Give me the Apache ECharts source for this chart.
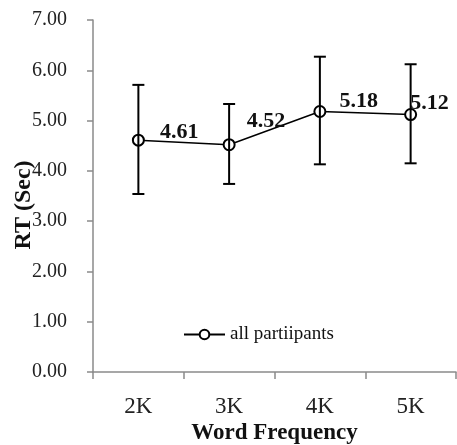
<!DOCTYPE html>
<html>
<head>
<meta charset="utf-8">
<script src="https://cdn.jsdelivr.net/npm/echarts@6/dist/echarts.min.js"></script>
<style>
html,body{margin:0;padding:0;background:#fff;}
#c{width:457px;height:445px;}
</style>
</head>
<body>
<div id="c"></div>
<script>
const categories = ['2K', '3K', '4K', '5K'];
const meanRT = [4.61, 4.52, 5.18, 5.12];
const errUpper = [5.71, 5.33, 6.27, 6.12];
const errLower = [3.54, 3.74, 4.13, 4.15];
const seriesName = 'all partiipants';

const labelOffsets = [[15, -8], [11, -23], [13, -10], [-7, -11]];
const FONT = '"Liberation Serif", "Times New Roman", serif';

const chart = echarts.init(document.getElementById('c'), null, {renderer: 'canvas'});

const lineData = meanRT.map((v, i) => ({
  value: v,
  label: {offset: labelOffsets[i]}
}));

const errData = categories.map((c, i) => [i, errLower[i], errUpper[i]]);

chart.setOption({
  animation: false,
  backgroundColor: '#fff',
  grid: {left: 93, right: 1, top: 20, bottom: 73, containLabel: false, outerBoundsMode: 'none'},
  legend: {
    data: [seriesName],
    left: 178,
    top: 320,
    itemWidth: 41,
    itemHeight: 12,
    itemGap: 2,
    textStyle: {fontFamily: FONT, fontSize: 19, color: '#111'}
  },
  xAxis: {
    type: 'category',
    data: categories,
    boundaryGap: true,
    axisLine: {lineStyle: {color: '#8a8a8a', width: 1.5}},
    axisTick: {show: true, length: 7, lineStyle: {color: '#8a8a8a', width: 1.5}},
    axisLabel: {fontFamily: FONT, fontSize: 23, color: '#222', margin: 23},
    name: 'Word Frequency',
    nameLocation: 'middle',
    nameGap: 50,
    nameMoveOverlap: false,
    nameTextStyle: {fontFamily: FONT, fontSize: 23, fontWeight: 'bold', color: '#111'}
  },
  yAxis: {
    type: 'value',
    min: 0,
    max: 7,
    interval: 1,
    splitLine: {show: false},
    axisLine: {show: true, lineStyle: {color: '#8a8a8a', width: 1.5}},
    axisTick: {show: true, length: 6, lineStyle: {color: '#8a8a8a', width: 1.5}},
    axisLabel: {fontFamily: FONT, fontSize: 20, color: '#222', margin: 26,
      formatter: v => v.toFixed(2)},
    name: 'RT (Sec)',
    nameLocation: 'middle',
    nameRotate: 90,
    nameGap: 57,
    nameMoveOverlap: false,
    nameTextStyle: {fontFamily: FONT, fontSize: 24, fontWeight: 'bold', color: '#111', padding: [0, 18, 0, 0]}
  },
  series: [
    {
      name: seriesName,
      type: 'line',
      data: lineData,
      symbol: 'emptyCircle',
      symbolSize: 11,
      itemStyle: {color: '#000', borderColor: '#000', borderWidth: 1.5},
      lineStyle: {color: '#000', width: 1.5},
      label: {
        show: true,
        position: 'right',
        distance: 0,
        fontFamily: FONT,
        fontSize: 22,
        fontWeight: 'bold',
        color: '#111',
        formatter: p => p.value.toFixed(2)
      },
      z: 2
    },
    {
      type: 'custom',
      name: 'err',
      data: errData,
      z: 3,
      renderItem: function (params, api) {
        const x = api.value(0);
        const lo = api.coord([x, api.value(1)]);
        const hi = api.coord([x, api.value(2)]);
        const w = 6;
        const style = {stroke: '#000', lineWidth: 2};
        return {
          type: 'group',
          children: [
            {type: 'line', shape: {x1: lo[0], y1: lo[1], x2: hi[0], y2: hi[1]}, style},
            {type: 'line', shape: {x1: hi[0] - w, y1: hi[1], x2: hi[0] + w, y2: hi[1]}, style},
            {type: 'line', shape: {x1: lo[0] - w, y1: lo[1], x2: lo[0] + w, y2: lo[1]}, style}
          ]
        };
      }
    }
  ]
});
</script>
</body>
</html>
